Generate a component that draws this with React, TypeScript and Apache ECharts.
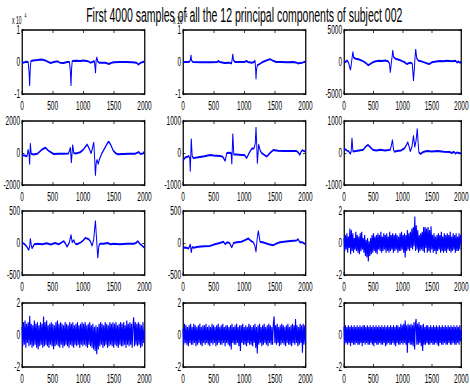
import React, { useEffect, useRef } from "react";
import * as echarts from "echarts";

const TITLE = "First 4000 samples of all the 12 principal components of subject 002";
const X_MIN = 0;
const X_MAX = 2000;
const X_STEP = 500;
// symmetric y limits per panel (row-major), ticks at -max, 0, max
const Y_LIMITS = [1, 1, 5000, 2000, 1000, 1000, 500, 500, 2, 2, 2, 2];
const EXP_PANELS = [0, 1]; // panels with "x 10^4" multiplier
const EXP_TEXT = "x 10";
const EXP_POWER = "4";

// PC1, PC2 in units of 10^4
const pc1 = [[0,0.0],[30,-0.02],[60,0.01],[100,0.0],[115,-0.3],[125,-0.75],[135,-0.2],[145,0.03],[180,0.05],[250,0.06],[320,0.08],[380,0.05],[430,0.0],[470,-0.03],[520,0.0],[580,0.02],[620,-0.02],[680,-0.03],[740,0.0],[775,0.0],[790,-0.3],[800,-0.75],[810,-0.2],[820,0.03],[880,0.04],[950,0.03],[1000,0.05],[1080,0.02],[1120,-0.02],[1150,0.0],[1180,0.03],[1195,-0.2],[1200,-0.35],[1210,0.05],[1222,0.15],[1235,0.02],[1260,-0.02],[1320,-0.02],[1360,-0.02],[1420,-0.06],[1450,-0.03],[1500,-0.01],[1600,0.0],[1700,0.0],[1800,-0.01],[1870,-0.02],[1900,-0.08],[1930,-0.03],[1960,-0.01],[2000,0.02]];
const pc2 = [[0,0.0],[50,0.0],[100,0.0],[120,0.05],[130,0.22],[140,0.05],[160,0.0],[300,-0.01],[450,-0.01],[560,0.0],[580,0.03],[600,0.0],[680,-0.03],[760,-0.02],[790,-0.05],[800,0.05],[813,0.25],[825,0.05],[850,0.0],[950,0.0],[1000,0.0],[1040,0.03],[1060,0.0],[1120,-0.02],[1160,0.0],[1175,0.05],[1185,-0.2],[1192,-0.54],[1200,-0.25],[1215,-0.1],[1260,-0.05],[1300,0.0],[1360,0.05],[1420,0.09],[1460,0.05],[1520,0.0],[1600,0.0],[1700,-0.01],[1800,0.0],[1860,-0.02],[1880,-0.05],[1900,-0.03],[1950,-0.02],[2000,0.02]];
const pc3 = [[0,0],[30,100],[55,250],[80,-200],[110,-1250],[125,-300],[140,800],[152,1600],[165,700],[200,500],[260,400],[330,100],[380,-200],[410,-500],[450,-300],[500,0],[545,100],[600,200],[650,150],[700,250],[750,100],[775,-200],[790,-1650],[805,-300],[820,800],[832,1850],[845,800],[880,500],[950,300],[1000,100],[1030,0],[1060,-250],[1075,-300],[1100,-200],[1140,-100],[1165,-300],[1185,-2950],[1200,-1000],[1212,800],[1223,2000],[1240,600],[1270,200],[1320,100],[1380,-100],[1420,-250],[1456,-300],[1500,-50],[1550,50],[1600,100],[1650,150],[1700,100],[1750,200],[1800,150],[1850,100],[1900,200],[1930,-100],[1950,100],[1980,-150],[2000,50]];
const pc4 = [[0,-140],[40,-150],[82,-200],[100,220],[115,-100],[125,-720],[136,610],[150,-50],[190,-100],[250,-50],[320,200],[380,330],[430,150],[490,0],[520,-60],[600,-40],[680,-50],[760,-30],[790,350],[806,-610],[828,520],[845,0],[880,-30],[950,50],[1000,200],[1063,540],[1100,250],[1128,-30],[1150,300],[1172,670],[1185,-300],[1199,-1420],[1212,-600],[1226,-420],[1245,-700],[1260,-450],[1300,-50],[1350,300],[1400,650],[1417,710],[1450,500],[1490,150],[1526,0],[1560,-80],[1650,-60],[1750,-50],[1850,-40],[1907,60],[1930,-50],[1970,-50],[2000,100]];
const pc5 = [[0,-250],[30,-150],[70,-120],[92,-90],[110,-150],[119,-580],[135,450],[150,-100],[173,-160],[250,-130],[350,-100],[444,-60],[500,-80],[600,-90],[650,-120],[688,-250],[715,0],[760,10],[786,0],[797,-350],[813,610],[830,-50],[878,-50],[950,-60],[1000,-60],[1040,-160],[1080,0],[1122,130],[1160,150],[1180,300],[1192,810],[1205,200],[1214,-330],[1235,270],[1260,80],[1284,0],[1320,-50],[1366,-110],[1420,0],[1474,90],[1550,70],[1650,60],[1750,60],[1854,60],[1880,20],[1908,-60],[1930,50],[1951,90],[1980,50],[2000,70]];
const pc6 = [[0,150],[30,100],[54,75],[80,50],[109,-30],[122,50],[136,470],[152,50],[200,60],[260,80],[326,100],[370,200],[408,255],[450,180],[489,105],[550,80],[620,100],[700,80],[760,90],[788,100],[810,250],[826,415],[845,100],[859,40],[900,60],[970,80],[1033,150],[1065,250],[1087,340],[1110,200],[1130,50],[1160,200],[1185,550],[1207,180],[1230,400],[1250,765],[1265,300],[1277,20],[1304,-30],[1350,30],[1413,60],[1500,50],[1600,60],[1700,40],[1800,30],[1840,0],[1875,40],[1900,-20],[1929,20],[1970,-10],[2000,-10]];
const pc7 = [[0,10],[30,-10],[54,-30],[80,-60],[109,-110],[125,-60],[136,70],[150,-20],[163,-85],[200,-20],[260,-10],[330,-20],[400,-5],[470,-25],[540,0],[600,-20],[650,10],[681,30],[710,-10],[735,-60],[770,0],[801,130],[818,10],[845,45],[870,-10],[899,-20],[960,10],[1000,40],[1035,80],[1090,60],[1120,20],[1144,-45],[1170,50],[1199,350],[1215,100],[1237,-235],[1255,-50],[1270,-10],[1330,-10],[1400,0],[1444,-20],[1500,-10],[1600,-20],[1700,-10],[1826,-10],[1860,0],[1891,30],[1920,-10],[1960,-40],[2000,-75]];
const pc8 = [[0,-75],[40,-70],[92,-85],[119,-20],[135,-150],[150,-60],[173,-75],[250,-60],[350,-50],[444,-45],[520,-20],[600,0],[661,20],[690,-20],[715,10],[760,0],[797,-70],[824,0],[880,10],[950,20],[1000,40],[1067,70],[1100,40],[1149,10],[1175,-50],[1192,-140],[1210,60],[1230,190],[1245,100],[1257,20],[1300,10],[1400,-20],[1474,-35],[1520,-10],[1583,10],[1650,20],[1750,30],[1854,40],[1880,60],[1908,10],[1950,10],[2000,-20]];

// noisy components, equally spaced samples over 0..2000
const pc9 = [0.3,-0.5,0.5,-0.4,0.6,-0.6,0.4,-0.3,0.9,-0.7,0.8,-0.5,0.6,-0.6,0.3,-0.4,0.7,-0.5,0.5,-0.6,0.4,-0.7,0.6,-0.5,0.7,-0.4,0.3,-0.6,0.5,-0.8,0.2,-0.9,0.3,-1.15,0.1,-0.8,0.3,-0.7,0.5,-0.6,0.6,-0.5,0.4,-0.6,0.5,-0.7,0.6,-0.4,0.5,-0.5,0.7,-0.6,0.4,-0.5,0.6,-0.4,0.5,-0.6,0.6,-0.5,0.4,-0.6,0.7,-0.5,0.5,-0.4,0.6,-0.6,0.5,-0.5,0.6,-0.4,0.5,-0.6,0.4,-0.5,0.6,-0.5,0.7,-0.4,0.5,-0.6,0.6,-0.9,0.5,-0.5,0.8,-0.4,0.6,-0.5,0.7,-0.3,0.9,-0.4,1.0,-0.2,1.65,-0.5,1.1,-0.4,0.8,-0.6,0.5,-0.5,0.6,-0.4,0.7,-0.5,1.0,-0.6,1.0,-0.3,0.9,-0.6,1.0,-0.5,0.8,-0.6,1.05,-0.4,0.5,-0.6,0.6,-0.5,0.4,-0.7,0.5,-0.5,0.6,-0.4,0.5,-0.6,0.7,-0.5,0.4,-0.6,0.6,-0.5,0.5,-0.6,0.6,-0.4,0.5,-0.5,0.7,-0.6,0.4,-0.5,0.6,-0.4,0.5,-0.6,0.6,-0.5,0.4,-0.5,0.6,-0.4,0.5,0.0];
const pc10 = [0.5,-0.7,0.8,-0.6,0.9,-0.8,0.7,-0.5,0.8,-0.7,1.2,-0.6,0.7,-0.8,0.6,-0.7,0.9,-0.6,0.7,-0.8,0.8,-0.9,0.6,-0.7,0.8,-0.6,0.7,-0.8,1.15,-0.7,0.8,-0.6,0.9,-0.7,0.6,-0.8,0.7,-0.6,0.8,-0.7,0.7,-0.9,0.6,-0.7,0.8,-0.6,0.9,-0.7,0.7,-0.8,0.8,-0.6,0.7,-0.8,0.6,-0.7,0.8,-0.6,0.7,-0.7,0.6,-0.8,0.8,-0.6,0.7,-0.7,0.8,-0.8,0.6,-0.6,0.7,-0.7,0.8,-0.6,0.6,-0.8,0.7,-0.6,0.8,-0.7,0.7,-0.6,0.8,-0.7,0.6,-0.8,0.7,-0.6,0.8,-0.7,0.6,-0.8,0.7,-0.9,0.5,-1.0,0.6,-1.2,0.5,-0.9,0.7,-0.7,0.8,-0.6,0.7,-0.8,0.6,-0.7,0.8,-0.6,0.7,-0.8,0.6,-0.7,0.8,-0.6,0.7,-0.7,0.8,-0.8,0.7,-0.6,0.8,-0.7,0.6,-0.8,0.7,-0.6,0.8,-0.7,0.7,-0.7,0.8,-0.6,0.6,-0.8,0.9,-0.6,0.7,-0.7,0.8,-0.6,0.7,-0.8,0.6,1.1,-0.7,0.8,-0.6,0.7,-0.7,0.8,-0.6,0.7,-0.8,0.6,-0.7,0.8,-0.5,0.3];
const pc11 = [0.4,-0.6,0.7,-0.5,0.6,-0.6,0.5,-0.7,0.6,-0.5,0.7,-0.6,0.5,-0.6,0.7,-0.5,0.6,-0.7,0.5,-0.6,0.6,-0.5,0.7,-0.6,0.5,-0.7,0.6,-0.5,0.6,-0.6,0.7,-0.5,0.5,-0.6,0.6,-0.7,0.5,-0.5,0.7,-0.6,0.6,-0.5,0.5,-0.7,0.6,-0.6,0.7,-0.5,0.5,-0.6,0.6,-0.6,0.7,-0.5,0.5,-0.7,0.6,-0.5,0.6,-0.6,0.5,-0.7,0.6,-0.9,0.7,-0.5,0.5,-0.6,0.6,-0.6,0.7,-0.5,0.5,-0.7,0.6,-1.0,0.6,-0.5,0.7,-0.6,0.5,-0.6,0.6,-0.7,0.5,-0.5,0.7,-0.6,0.6,-0.6,0.5,-0.7,0.6,-0.5,0.7,-0.8,0.5,-1.15,0.6,-0.6,0.7,-0.5,0.5,-0.7,0.6,-0.6,0.7,-0.5,0.5,-0.6,0.6,-0.7,0.7,-0.5,0.6,-0.6,0.5,-0.6,0.7,1.15,-0.5,0.6,-0.6,0.7,-0.5,0.5,-0.7,0.6,-0.6,0.7,-0.5,0.6,-0.6,0.5,-0.7,0.6,-0.5,0.7,-0.6,0.5,-0.6,0.6,-0.7,0.7,-0.5,0.6,-0.6,1.0,-0.5,0.6,-0.7,0.5,-0.6,0.7,-0.5,0.6,-1.1,0.7,-0.6,0.6,-0.5];
const pc12 = [0.5,-0.6,0.6,-0.5,0.5,-0.6,0.6,-0.5,0.5,-0.7,0.6,-0.5,0.5,-0.6,0.6,-0.6,0.5,-0.5,0.6,-0.6,0.5,-0.6,0.6,-0.5,0.5,-0.7,0.6,-0.5,0.6,-0.6,0.5,-0.5,0.6,-0.6,0.5,-0.6,0.6,-0.5,0.5,-0.6,0.6,-0.7,0.5,-0.5,0.6,-0.6,0.5,-0.6,0.6,-0.5,0.5,-0.6,0.6,-0.6,0.5,-0.5,0.6,-0.7,0.5,-0.6,0.6,-0.5,0.5,-0.6,0.6,-0.6,0.5,-0.5,0.6,-0.6,0.5,-0.7,0.6,-0.5,0.6,-0.6,0.5,-0.6,0.7,-0.5,0.6,-0.6,0.7,-0.5,0.9,-0.6,0.6,-1.1,0.7,-0.5,0.6,-0.6,0.7,-0.6,0.6,-0.7,0.8,-0.9,0.7,1.0,-0.6,0.7,-0.6,0.8,-0.5,0.6,-0.7,0.6,-1.0,0.7,-0.6,0.5,-0.6,0.6,-0.5,0.6,-0.6,0.5,-0.6,0.6,-0.5,0.5,-0.6,0.6,-0.6,0.5,-0.5,0.6,-0.6,0.5,-0.7,0.6,-0.5,0.5,-0.6,0.6,-0.6,0.5,-0.5,0.6,-0.6,0.5,-0.6,0.6,-0.5,0.5,-0.6,0.6,-0.6,0.5,-0.5,0.6,-0.6,0.5,-0.6,0.6,-0.5,0.5,-0.6,0.6,-0.4,0.3];

const toPairs = (ys: number[]) => ys.map((v, i) => [(i * (X_MAX - X_MIN)) / (ys.length - 1), v]);
const SERIES: number[][][] = [pc1, pc2, pc3, pc4, pc5, pc6, pc7, pc8, toPairs(pc9), toPairs(pc10), toPairs(pc11), toPairs(pc12)];
const NOISY = [8, 9, 10, 11];

// layout (chart is drawn twice as wide and squeezed horizontally like the original)
const SQUEEZE = 0.5;
const W = 470 / SQUEEZE;
const H = 387;
const COL_LEFT = [44, 366, 688];
const COL_W = 245;
const ROW_TOP = [30, 121, 211, 303];
const ROW_H = 64;
const FONT = '"Liberation Sans", Arial, Helvetica, sans-serif';
const plain = (v: number) => String(v);

export default function App() {
  const ref = useRef<HTMLDivElement>(null);
  useEffect(() => {
    if (!ref.current) return;
    const chart = echarts.init(ref.current, null, { renderer: "svg", width: W, height: H });
    const grid: any[] = [];
    const xAxis: any[] = [];
    const yAxis: any[] = [];
    const series: any[] = [];
    const graphic: any[] = [];
    SERIES.forEach((data, k) => {
      const r = Math.floor(k / 3);
      const c = k % 3;
      grid.push({ left: COL_LEFT[c], top: ROW_TOP[r], width: COL_W, height: ROW_H, show: false });
      const xBase = {
        type: "value", gridIndex: k, min: X_MIN, max: X_MAX, interval: X_STEP,
        splitLine: { show: false },
        axisLine: { show: true, onZero: false, lineStyle: { color: "#000", width: 1.5 } },
        axisTick: { show: true, inside: true, length: 3, lineStyle: { color: "#000", width: 1.5 } },
      };
      xAxis.push({ ...xBase, position: "bottom", axisLabel: { show: true, margin: 5, color: "#000", fontSize: 13, fontFamily: FONT, formatter: plain } });
      xAxis.push({ ...xBase, position: "top", axisLabel: { show: false } });
      const m = Y_LIMITS[k];
      const yBase = {
        type: "value", gridIndex: k, min: -m, max: m, interval: m,
        splitLine: { show: false },
        axisLine: { show: true, onZero: false, lineStyle: { color: "#000", width: 2.5 } },
        axisTick: { show: true, inside: true, length: 5, lineStyle: { color: "#000", width: 1 } },
      };
      yAxis.push({ ...yBase, position: "left", axisLabel: { show: true, margin: 4, color: "#000", fontSize: 13, fontFamily: FONT, formatter: plain } });
      yAxis.push({ ...yBase, position: "right", axisLabel: { show: false } });
      series.push({
        type: "line", xAxisIndex: 2 * k, yAxisIndex: 2 * k, data,
        showSymbol: false, symbol: "none", clip: true,
        lineStyle: { color: "#0000ff", width: NOISY.includes(k) ? 2.2 : 2 },
      });
    });
    EXP_PANELS.forEach((k) => {
      const c = k % 3;
      const x0 = COL_LEFT[c] - 20;
      graphic.push({ type: "text", x: x0, y: 21, style: { text: EXP_TEXT, fontSize: 10, fontFamily: FONT, fill: "#000", align: "left", verticalAlign: "middle" } });
      graphic.push({ type: "text", x: x0 + 25, y: 15, style: { text: EXP_POWER, fontSize: 7, fontFamily: FONT, fill: "#000", align: "left", verticalAlign: "middle" } });
    });
    graphic.push({
      type: "text", x: COL_LEFT[1] + COL_W / 2, y: 15,
      style: { text: TITLE, fontSize: 21, fontFamily: FONT, fill: "#000", align: "center", verticalAlign: "middle" },
    });
    chart.setOption({ animation: false, backgroundColor: "#fff", grid, xAxis, yAxis, series, graphic });
    return () => chart.dispose();
  }, []);
  return (
    <div style={{ position: "fixed", left: 0, top: 0, width: 470, height: 387, overflow: "hidden", background: "#fff" }}>
      <div ref={ref} style={{ width: W, height: H, transform: `scaleX(${SQUEEZE})`, transformOrigin: "0 0" }} />
    </div>
  );
}
